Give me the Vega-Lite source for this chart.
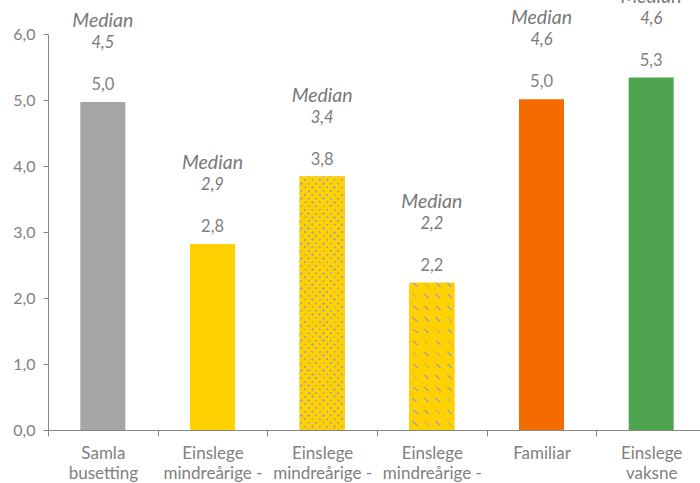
{
  "$schema": "https://vega.github.io/schema/vega-lite/v6.json",
  "autosize": {"type": "none"},
  "padding": {"left": 48, "top": 34, "right": 0, "bottom": 53},
  "width": 652,
  "height": 396,
  "background": "white",
  "data": {
    "values": [
      {"gruppe": "Samla\nbusetting", "snitt": 4.97, "median": 4.5},
      {"gruppe": "Einslege\nmindreårige -\ntotalt", "snitt": 2.82, "median": 2.9},
      {"gruppe": "Einslege\nmindreårige -\nunder 15 år", "snitt": 3.84, "median": 3.4},
      {"gruppe": "Einslege\nmindreårige -\n15 år og eldre", "snitt": 2.23, "median": 2.2},
      {"gruppe": "Familiar", "snitt": 5.01, "median": 4.6},
      {"gruppe": "Einslege\nvaksne", "snitt": 5.34, "median": 4.6}
    ]
  },
  "encoding": {
    "x": {
      "field": "gruppe",
      "type": "nominal",
      "sort": null,
      "scale": {"paddingInner": 0, "paddingOuter": 0, "range": [0, 658]},
      "axis": {
        "title": null,
        "labelAngle": 0,
        "tickBand": "extent",
        "tickSize": 6,
        "labelPadding": 9,
        "labelFontSize": 17,
        "labelLineHeight": 20,
        "labelExpr": "split(datum.label, '\\n')"
      }
    },
    "y": {
      "field": "snitt",
      "type": "quantitative",
      "scale": {"domain": [0, 6], "nice": false},
      "axis": {
        "title": null,
        "values": [0, 1, 2, 3, 4, 5, 6],
        "format": ".1f",
        "tickSize": 5,
        "labelPadding": 8,
        "labelFontSize": 16
      }
    }
  },
  "layer": [
    {
      "mark": {"type": "bar", "size": 45},
      "encoding": {
        "color": {
          "field": "gruppe",
          "type": "nominal",
          "legend": null,
          "scale": {
            "domain": ["Samla\nbusetting", "Einslege\nmindreårige -\ntotalt", "Einslege\nmindreårige -\nunder 15 år", "Einslege\nmindreårige -\n15 år og eldre", "Familiar", "Einslege\nvaksne"],
            "range": ["#A5A5A5", "#FFD100", "#FFD100", "#FFD100", "#F46C00", "#4FA54F"]
          }
        }
      }
    },
    {
      "transform": [{"filter": "indexof(datum.gruppe, 'under 15') >= 0"}],
      "mark": {
        "type": "bar",
        "size": 45,
        "fill": {
          "gradient": "linear", "x1": 0, "y1": 0, "x2": 0.2056, "y2": 1.143,
          "stops": [
            {"offset": 0, "color": "#A6A6A6"}, {"offset": 0.009, "color": "#A6A6A6"}, {"offset": 0.009, "color": "#FFD100"}, {"offset": 0.025, "color": "#FFD100"},
            {"offset": 0.025, "color": "#A6A6A6"}, {"offset": 0.034, "color": "#A6A6A6"}, {"offset": 0.034, "color": "#FFD100"}, {"offset": 0.05, "color": "#FFD100"},
            {"offset": 0.05, "color": "#A6A6A6"}, {"offset": 0.059, "color": "#A6A6A6"}, {"offset": 0.059, "color": "#FFD100"}, {"offset": 0.075, "color": "#FFD100"},
            {"offset": 0.075, "color": "#A6A6A6"}, {"offset": 0.084, "color": "#A6A6A6"}, {"offset": 0.084, "color": "#FFD100"}, {"offset": 0.1, "color": "#FFD100"},
            {"offset": 0.1, "color": "#A6A6A6"}, {"offset": 0.109, "color": "#A6A6A6"}, {"offset": 0.109, "color": "#FFD100"}, {"offset": 0.125, "color": "#FFD100"},
            {"offset": 0.125, "color": "#A6A6A6"}, {"offset": 0.134, "color": "#A6A6A6"}, {"offset": 0.134, "color": "#FFD100"}, {"offset": 0.15, "color": "#FFD100"},
            {"offset": 0.15, "color": "#A6A6A6"}, {"offset": 0.159, "color": "#A6A6A6"}, {"offset": 0.159, "color": "#FFD100"}, {"offset": 0.175, "color": "#FFD100"},
            {"offset": 0.175, "color": "#A6A6A6"}, {"offset": 0.184, "color": "#A6A6A6"}, {"offset": 0.184, "color": "#FFD100"}, {"offset": 0.2, "color": "#FFD100"},
            {"offset": 0.2, "color": "#A6A6A6"}, {"offset": 0.209, "color": "#A6A6A6"}, {"offset": 0.209, "color": "#FFD100"}, {"offset": 0.225, "color": "#FFD100"},
            {"offset": 0.225, "color": "#A6A6A6"}, {"offset": 0.234, "color": "#A6A6A6"}, {"offset": 0.234, "color": "#FFD100"}, {"offset": 0.25, "color": "#FFD100"},
            {"offset": 0.25, "color": "#A6A6A6"}, {"offset": 0.259, "color": "#A6A6A6"}, {"offset": 0.259, "color": "#FFD100"}, {"offset": 0.275, "color": "#FFD100"},
            {"offset": 0.275, "color": "#A6A6A6"}, {"offset": 0.284, "color": "#A6A6A6"}, {"offset": 0.284, "color": "#FFD100"}, {"offset": 0.3, "color": "#FFD100"},
            {"offset": 0.3, "color": "#A6A6A6"}, {"offset": 0.309, "color": "#A6A6A6"}, {"offset": 0.309, "color": "#FFD100"}, {"offset": 0.325, "color": "#FFD100"},
            {"offset": 0.325, "color": "#A6A6A6"}, {"offset": 0.334, "color": "#A6A6A6"}, {"offset": 0.334, "color": "#FFD100"}, {"offset": 0.35, "color": "#FFD100"},
            {"offset": 0.35, "color": "#A6A6A6"}, {"offset": 0.359, "color": "#A6A6A6"}, {"offset": 0.359, "color": "#FFD100"}, {"offset": 0.375, "color": "#FFD100"},
            {"offset": 0.375, "color": "#A6A6A6"}, {"offset": 0.384, "color": "#A6A6A6"}, {"offset": 0.384, "color": "#FFD100"}, {"offset": 0.4, "color": "#FFD100"},
            {"offset": 0.4, "color": "#A6A6A6"}, {"offset": 0.409, "color": "#A6A6A6"}, {"offset": 0.409, "color": "#FFD100"}, {"offset": 0.425, "color": "#FFD100"},
            {"offset": 0.425, "color": "#A6A6A6"}, {"offset": 0.434, "color": "#A6A6A6"}, {"offset": 0.434, "color": "#FFD100"}, {"offset": 0.45, "color": "#FFD100"},
            {"offset": 0.45, "color": "#A6A6A6"}, {"offset": 0.459, "color": "#A6A6A6"}, {"offset": 0.459, "color": "#FFD100"}, {"offset": 0.475, "color": "#FFD100"},
            {"offset": 0.475, "color": "#A6A6A6"}, {"offset": 0.484, "color": "#A6A6A6"}, {"offset": 0.484, "color": "#FFD100"}, {"offset": 0.5, "color": "#FFD100"},
            {"offset": 0.5, "color": "#A6A6A6"}, {"offset": 0.509, "color": "#A6A6A6"}, {"offset": 0.509, "color": "#FFD100"}, {"offset": 0.525, "color": "#FFD100"},
            {"offset": 0.525, "color": "#A6A6A6"}, {"offset": 0.534, "color": "#A6A6A6"}, {"offset": 0.534, "color": "#FFD100"}, {"offset": 0.55, "color": "#FFD100"},
            {"offset": 0.55, "color": "#A6A6A6"}, {"offset": 0.559, "color": "#A6A6A6"}, {"offset": 0.559, "color": "#FFD100"}, {"offset": 0.575, "color": "#FFD100"},
            {"offset": 0.575, "color": "#A6A6A6"}, {"offset": 0.584, "color": "#A6A6A6"}, {"offset": 0.584, "color": "#FFD100"}, {"offset": 0.6, "color": "#FFD100"},
            {"offset": 0.6, "color": "#A6A6A6"}, {"offset": 0.609, "color": "#A6A6A6"}, {"offset": 0.609, "color": "#FFD100"}, {"offset": 0.625, "color": "#FFD100"},
            {"offset": 0.625, "color": "#A6A6A6"}, {"offset": 0.634, "color": "#A6A6A6"}, {"offset": 0.634, "color": "#FFD100"}, {"offset": 0.65, "color": "#FFD100"},
            {"offset": 0.65, "color": "#A6A6A6"}, {"offset": 0.659, "color": "#A6A6A6"}, {"offset": 0.659, "color": "#FFD100"}, {"offset": 0.675, "color": "#FFD100"},
            {"offset": 0.675, "color": "#A6A6A6"}, {"offset": 0.684, "color": "#A6A6A6"}, {"offset": 0.684, "color": "#FFD100"}, {"offset": 0.7, "color": "#FFD100"},
            {"offset": 0.7, "color": "#A6A6A6"}, {"offset": 0.709, "color": "#A6A6A6"}, {"offset": 0.709, "color": "#FFD100"}, {"offset": 0.725, "color": "#FFD100"},
            {"offset": 0.725, "color": "#A6A6A6"}, {"offset": 0.734, "color": "#A6A6A6"}, {"offset": 0.734, "color": "#FFD100"}, {"offset": 0.75, "color": "#FFD100"},
            {"offset": 0.75, "color": "#A6A6A6"}, {"offset": 0.759, "color": "#A6A6A6"}, {"offset": 0.759, "color": "#FFD100"}, {"offset": 0.775, "color": "#FFD100"},
            {"offset": 0.775, "color": "#A6A6A6"}, {"offset": 0.784, "color": "#A6A6A6"}, {"offset": 0.784, "color": "#FFD100"}, {"offset": 0.8, "color": "#FFD100"},
            {"offset": 0.8, "color": "#A6A6A6"}, {"offset": 0.809, "color": "#A6A6A6"}, {"offset": 0.809, "color": "#FFD100"}, {"offset": 0.825, "color": "#FFD100"},
            {"offset": 0.825, "color": "#A6A6A6"}, {"offset": 0.834, "color": "#A6A6A6"}, {"offset": 0.834, "color": "#FFD100"}, {"offset": 0.85, "color": "#FFD100"},
            {"offset": 0.85, "color": "#A6A6A6"}, {"offset": 0.859, "color": "#A6A6A6"}, {"offset": 0.859, "color": "#FFD100"}, {"offset": 0.875, "color": "#FFD100"},
            {"offset": 0.875, "color": "#A6A6A6"}, {"offset": 0.884, "color": "#A6A6A6"}, {"offset": 0.884, "color": "#FFD100"}, {"offset": 0.9, "color": "#FFD100"},
            {"offset": 0.9, "color": "#A6A6A6"}, {"offset": 0.909, "color": "#A6A6A6"}, {"offset": 0.909, "color": "#FFD100"}, {"offset": 0.925, "color": "#FFD100"},
            {"offset": 0.925, "color": "#A6A6A6"}, {"offset": 0.934, "color": "#A6A6A6"}, {"offset": 0.934, "color": "#FFD100"}, {"offset": 0.95, "color": "#FFD100"},
            {"offset": 0.95, "color": "#A6A6A6"}, {"offset": 0.959, "color": "#A6A6A6"}, {"offset": 0.959, "color": "#FFD100"}, {"offset": 0.975, "color": "#FFD100"},
            {"offset": 0.975, "color": "#A6A6A6"}, {"offset": 0.984, "color": "#A6A6A6"}, {"offset": 0.984, "color": "#FFD100"}, {"offset": 1, "color": "#FFD100"}
          ]
        }
      }
    },
    {
      "transform": [{"filter": "indexof(datum.gruppe, 'under 15') >= 0"}],
      "mark": {
        "type": "bar",
        "size": 45,
        "fill": {
          "gradient": "linear", "x1": 0, "y1": 1, "x2": 0.2056, "y2": -0.143,
          "stops": [
            {"offset": 0, "color": "rgba(255,209,0,0)"}, {"offset": 0.009, "color": "rgba(255,209,0,0)"}, {"offset": 0.009, "color": "#FFD100"}, {"offset": 0.025, "color": "#FFD100"},
            {"offset": 0.025, "color": "rgba(255,209,0,0)"}, {"offset": 0.034, "color": "rgba(255,209,0,0)"}, {"offset": 0.034, "color": "#FFD100"}, {"offset": 0.05, "color": "#FFD100"},
            {"offset": 0.05, "color": "rgba(255,209,0,0)"}, {"offset": 0.059, "color": "rgba(255,209,0,0)"}, {"offset": 0.059, "color": "#FFD100"}, {"offset": 0.075, "color": "#FFD100"},
            {"offset": 0.075, "color": "rgba(255,209,0,0)"}, {"offset": 0.084, "color": "rgba(255,209,0,0)"}, {"offset": 0.084, "color": "#FFD100"}, {"offset": 0.1, "color": "#FFD100"},
            {"offset": 0.1, "color": "rgba(255,209,0,0)"}, {"offset": 0.109, "color": "rgba(255,209,0,0)"}, {"offset": 0.109, "color": "#FFD100"}, {"offset": 0.125, "color": "#FFD100"},
            {"offset": 0.125, "color": "rgba(255,209,0,0)"}, {"offset": 0.134, "color": "rgba(255,209,0,0)"}, {"offset": 0.134, "color": "#FFD100"}, {"offset": 0.15, "color": "#FFD100"},
            {"offset": 0.15, "color": "rgba(255,209,0,0)"}, {"offset": 0.159, "color": "rgba(255,209,0,0)"}, {"offset": 0.159, "color": "#FFD100"}, {"offset": 0.175, "color": "#FFD100"},
            {"offset": 0.175, "color": "rgba(255,209,0,0)"}, {"offset": 0.184, "color": "rgba(255,209,0,0)"}, {"offset": 0.184, "color": "#FFD100"}, {"offset": 0.2, "color": "#FFD100"},
            {"offset": 0.2, "color": "rgba(255,209,0,0)"}, {"offset": 0.209, "color": "rgba(255,209,0,0)"}, {"offset": 0.209, "color": "#FFD100"}, {"offset": 0.225, "color": "#FFD100"},
            {"offset": 0.225, "color": "rgba(255,209,0,0)"}, {"offset": 0.234, "color": "rgba(255,209,0,0)"}, {"offset": 0.234, "color": "#FFD100"}, {"offset": 0.25, "color": "#FFD100"},
            {"offset": 0.25, "color": "rgba(255,209,0,0)"}, {"offset": 0.259, "color": "rgba(255,209,0,0)"}, {"offset": 0.259, "color": "#FFD100"}, {"offset": 0.275, "color": "#FFD100"},
            {"offset": 0.275, "color": "rgba(255,209,0,0)"}, {"offset": 0.284, "color": "rgba(255,209,0,0)"}, {"offset": 0.284, "color": "#FFD100"}, {"offset": 0.3, "color": "#FFD100"},
            {"offset": 0.3, "color": "rgba(255,209,0,0)"}, {"offset": 0.309, "color": "rgba(255,209,0,0)"}, {"offset": 0.309, "color": "#FFD100"}, {"offset": 0.325, "color": "#FFD100"},
            {"offset": 0.325, "color": "rgba(255,209,0,0)"}, {"offset": 0.334, "color": "rgba(255,209,0,0)"}, {"offset": 0.334, "color": "#FFD100"}, {"offset": 0.35, "color": "#FFD100"},
            {"offset": 0.35, "color": "rgba(255,209,0,0)"}, {"offset": 0.359, "color": "rgba(255,209,0,0)"}, {"offset": 0.359, "color": "#FFD100"}, {"offset": 0.375, "color": "#FFD100"},
            {"offset": 0.375, "color": "rgba(255,209,0,0)"}, {"offset": 0.384, "color": "rgba(255,209,0,0)"}, {"offset": 0.384, "color": "#FFD100"}, {"offset": 0.4, "color": "#FFD100"},
            {"offset": 0.4, "color": "rgba(255,209,0,0)"}, {"offset": 0.409, "color": "rgba(255,209,0,0)"}, {"offset": 0.409, "color": "#FFD100"}, {"offset": 0.425, "color": "#FFD100"},
            {"offset": 0.425, "color": "rgba(255,209,0,0)"}, {"offset": 0.434, "color": "rgba(255,209,0,0)"}, {"offset": 0.434, "color": "#FFD100"}, {"offset": 0.45, "color": "#FFD100"},
            {"offset": 0.45, "color": "rgba(255,209,0,0)"}, {"offset": 0.459, "color": "rgba(255,209,0,0)"}, {"offset": 0.459, "color": "#FFD100"}, {"offset": 0.475, "color": "#FFD100"},
            {"offset": 0.475, "color": "rgba(255,209,0,0)"}, {"offset": 0.484, "color": "rgba(255,209,0,0)"}, {"offset": 0.484, "color": "#FFD100"}, {"offset": 0.5, "color": "#FFD100"},
            {"offset": 0.5, "color": "rgba(255,209,0,0)"}, {"offset": 0.509, "color": "rgba(255,209,0,0)"}, {"offset": 0.509, "color": "#FFD100"}, {"offset": 0.525, "color": "#FFD100"},
            {"offset": 0.525, "color": "rgba(255,209,0,0)"}, {"offset": 0.534, "color": "rgba(255,209,0,0)"}, {"offset": 0.534, "color": "#FFD100"}, {"offset": 0.55, "color": "#FFD100"},
            {"offset": 0.55, "color": "rgba(255,209,0,0)"}, {"offset": 0.559, "color": "rgba(255,209,0,0)"}, {"offset": 0.559, "color": "#FFD100"}, {"offset": 0.575, "color": "#FFD100"},
            {"offset": 0.575, "color": "rgba(255,209,0,0)"}, {"offset": 0.584, "color": "rgba(255,209,0,0)"}, {"offset": 0.584, "color": "#FFD100"}, {"offset": 0.6, "color": "#FFD100"},
            {"offset": 0.6, "color": "rgba(255,209,0,0)"}, {"offset": 0.609, "color": "rgba(255,209,0,0)"}, {"offset": 0.609, "color": "#FFD100"}, {"offset": 0.625, "color": "#FFD100"},
            {"offset": 0.625, "color": "rgba(255,209,0,0)"}, {"offset": 0.634, "color": "rgba(255,209,0,0)"}, {"offset": 0.634, "color": "#FFD100"}, {"offset": 0.65, "color": "#FFD100"},
            {"offset": 0.65, "color": "rgba(255,209,0,0)"}, {"offset": 0.659, "color": "rgba(255,209,0,0)"}, {"offset": 0.659, "color": "#FFD100"}, {"offset": 0.675, "color": "#FFD100"},
            {"offset": 0.675, "color": "rgba(255,209,0,0)"}, {"offset": 0.684, "color": "rgba(255,209,0,0)"}, {"offset": 0.684, "color": "#FFD100"}, {"offset": 0.7, "color": "#FFD100"},
            {"offset": 0.7, "color": "rgba(255,209,0,0)"}, {"offset": 0.709, "color": "rgba(255,209,0,0)"}, {"offset": 0.709, "color": "#FFD100"}, {"offset": 0.725, "color": "#FFD100"},
            {"offset": 0.725, "color": "rgba(255,209,0,0)"}, {"offset": 0.734, "color": "rgba(255,209,0,0)"}, {"offset": 0.734, "color": "#FFD100"}, {"offset": 0.75, "color": "#FFD100"},
            {"offset": 0.75, "color": "rgba(255,209,0,0)"}, {"offset": 0.759, "color": "rgba(255,209,0,0)"}, {"offset": 0.759, "color": "#FFD100"}, {"offset": 0.775, "color": "#FFD100"},
            {"offset": 0.775, "color": "rgba(255,209,0,0)"}, {"offset": 0.784, "color": "rgba(255,209,0,0)"}, {"offset": 0.784, "color": "#FFD100"}, {"offset": 0.8, "color": "#FFD100"},
            {"offset": 0.8, "color": "rgba(255,209,0,0)"}, {"offset": 0.809, "color": "rgba(255,209,0,0)"}, {"offset": 0.809, "color": "#FFD100"}, {"offset": 0.825, "color": "#FFD100"},
            {"offset": 0.825, "color": "rgba(255,209,0,0)"}, {"offset": 0.834, "color": "rgba(255,209,0,0)"}, {"offset": 0.834, "color": "#FFD100"}, {"offset": 0.85, "color": "#FFD100"},
            {"offset": 0.85, "color": "rgba(255,209,0,0)"}, {"offset": 0.859, "color": "rgba(255,209,0,0)"}, {"offset": 0.859, "color": "#FFD100"}, {"offset": 0.875, "color": "#FFD100"},
            {"offset": 0.875, "color": "rgba(255,209,0,0)"}, {"offset": 0.884, "color": "rgba(255,209,0,0)"}, {"offset": 0.884, "color": "#FFD100"}, {"offset": 0.9, "color": "#FFD100"},
            {"offset": 0.9, "color": "rgba(255,209,0,0)"}, {"offset": 0.909, "color": "rgba(255,209,0,0)"}, {"offset": 0.909, "color": "#FFD100"}, {"offset": 0.925, "color": "#FFD100"},
            {"offset": 0.925, "color": "rgba(255,209,0,0)"}, {"offset": 0.934, "color": "rgba(255,209,0,0)"}, {"offset": 0.934, "color": "#FFD100"}, {"offset": 0.95, "color": "#FFD100"},
            {"offset": 0.95, "color": "rgba(255,209,0,0)"}, {"offset": 0.959, "color": "rgba(255,209,0,0)"}, {"offset": 0.959, "color": "#FFD100"}, {"offset": 0.975, "color": "#FFD100"},
            {"offset": 0.975, "color": "rgba(255,209,0,0)"}, {"offset": 0.984, "color": "rgba(255,209,0,0)"}, {"offset": 0.984, "color": "#FFD100"}, {"offset": 1, "color": "#FFD100"}
          ]
        }
      }
    },
    {
      "transform": [{"filter": "indexof(datum.gruppe, 'og eldre') >= 0"}],
      "mark": {
        "type": "bar",
        "size": 45,
        "fill": {
          "gradient": "linear", "x1": 0, "y1": 1, "x2": 0.3704, "y2": -0.1951,
          "stops": [
            {"offset": 0, "color": "#A6A6A6"}, {"offset": 0.009, "color": "#A6A6A6"}, {"offset": 0.009, "color": "#FFD100"}, {"offset": 0.06, "color": "#FFD100"},
            {"offset": 0.06, "color": "#A6A6A6"}, {"offset": 0.069, "color": "#A6A6A6"}, {"offset": 0.069, "color": "#FFD100"}, {"offset": 0.12, "color": "#FFD100"},
            {"offset": 0.12, "color": "#A6A6A6"}, {"offset": 0.129, "color": "#A6A6A6"}, {"offset": 0.129, "color": "#FFD100"}, {"offset": 0.18, "color": "#FFD100"},
            {"offset": 0.18, "color": "#A6A6A6"}, {"offset": 0.189, "color": "#A6A6A6"}, {"offset": 0.189, "color": "#FFD100"}, {"offset": 0.24, "color": "#FFD100"},
            {"offset": 0.24, "color": "#A6A6A6"}, {"offset": 0.249, "color": "#A6A6A6"}, {"offset": 0.249, "color": "#FFD100"}, {"offset": 0.3, "color": "#FFD100"},
            {"offset": 0.3, "color": "#A6A6A6"}, {"offset": 0.309, "color": "#A6A6A6"}, {"offset": 0.309, "color": "#FFD100"}, {"offset": 0.36, "color": "#FFD100"},
            {"offset": 0.36, "color": "#A6A6A6"}, {"offset": 0.369, "color": "#A6A6A6"}, {"offset": 0.369, "color": "#FFD100"}, {"offset": 0.42, "color": "#FFD100"},
            {"offset": 0.42, "color": "#A6A6A6"}, {"offset": 0.429, "color": "#A6A6A6"}, {"offset": 0.429, "color": "#FFD100"}, {"offset": 0.48, "color": "#FFD100"},
            {"offset": 0.48, "color": "#A6A6A6"}, {"offset": 0.489, "color": "#A6A6A6"}, {"offset": 0.489, "color": "#FFD100"}, {"offset": 0.54, "color": "#FFD100"},
            {"offset": 0.54, "color": "#A6A6A6"}, {"offset": 0.549, "color": "#A6A6A6"}, {"offset": 0.549, "color": "#FFD100"}, {"offset": 0.6, "color": "#FFD100"},
            {"offset": 0.6, "color": "#A6A6A6"}, {"offset": 0.609, "color": "#A6A6A6"}, {"offset": 0.609, "color": "#FFD100"}, {"offset": 0.66, "color": "#FFD100"},
            {"offset": 0.66, "color": "#A6A6A6"}, {"offset": 0.669, "color": "#A6A6A6"}, {"offset": 0.669, "color": "#FFD100"}, {"offset": 0.72, "color": "#FFD100"},
            {"offset": 0.72, "color": "#A6A6A6"}, {"offset": 0.729, "color": "#A6A6A6"}, {"offset": 0.729, "color": "#FFD100"}, {"offset": 0.78, "color": "#FFD100"},
            {"offset": 0.78, "color": "#A6A6A6"}, {"offset": 0.789, "color": "#A6A6A6"}, {"offset": 0.789, "color": "#FFD100"}, {"offset": 0.84, "color": "#FFD100"},
            {"offset": 0.84, "color": "#A6A6A6"}, {"offset": 0.849, "color": "#A6A6A6"}, {"offset": 0.849, "color": "#FFD100"}, {"offset": 0.9, "color": "#FFD100"},
            {"offset": 0.9, "color": "#A6A6A6"}, {"offset": 0.909, "color": "#A6A6A6"}, {"offset": 0.909, "color": "#FFD100"}, {"offset": 0.96, "color": "#FFD100"},
            {"offset": 0.96, "color": "#A6A6A6"}, {"offset": 0.969, "color": "#A6A6A6"}, {"offset": 0.969, "color": "#FFD100"}, {"offset": 1, "color": "#FFD100"}
          ]
        }
      }
    },
    {
      "transform": [{"filter": "indexof(datum.gruppe, 'og eldre') >= 0"}],
      "mark": {
        "type": "bar",
        "size": 45,
        "fill": {
          "gradient": "linear", "x1": 0, "y1": 0, "x2": 0, "y2": 1,
          "stops": [
            {"offset": 0, "color": "rgba(255,209,0,0)"}, {"offset": 0.0275, "color": "rgba(255,209,0,0)"}, {"offset": 0.0275, "color": "#FFD100"}, {"offset": 0.0785, "color": "#FFD100"},
            {"offset": 0.0785, "color": "rgba(255,209,0,0)"}, {"offset": 0.106, "color": "rgba(255,209,0,0)"}, {"offset": 0.106, "color": "#FFD100"}, {"offset": 0.157, "color": "#FFD100"},
            {"offset": 0.157, "color": "rgba(255,209,0,0)"}, {"offset": 0.1845, "color": "rgba(255,209,0,0)"}, {"offset": 0.1845, "color": "#FFD100"}, {"offset": 0.2355, "color": "#FFD100"},
            {"offset": 0.2355, "color": "rgba(255,209,0,0)"}, {"offset": 0.263, "color": "rgba(255,209,0,0)"}, {"offset": 0.263, "color": "#FFD100"}, {"offset": 0.314, "color": "#FFD100"},
            {"offset": 0.314, "color": "rgba(255,209,0,0)"}, {"offset": 0.3415, "color": "rgba(255,209,0,0)"}, {"offset": 0.3415, "color": "#FFD100"}, {"offset": 0.3925, "color": "#FFD100"},
            {"offset": 0.3925, "color": "rgba(255,209,0,0)"}, {"offset": 0.42, "color": "rgba(255,209,0,0)"}, {"offset": 0.42, "color": "#FFD100"}, {"offset": 0.471, "color": "#FFD100"},
            {"offset": 0.471, "color": "rgba(255,209,0,0)"}, {"offset": 0.4985, "color": "rgba(255,209,0,0)"}, {"offset": 0.4985, "color": "#FFD100"}, {"offset": 0.5495, "color": "#FFD100"},
            {"offset": 0.5495, "color": "rgba(255,209,0,0)"}, {"offset": 0.577, "color": "rgba(255,209,0,0)"}, {"offset": 0.577, "color": "#FFD100"}, {"offset": 0.628, "color": "#FFD100"},
            {"offset": 0.628, "color": "rgba(255,209,0,0)"}, {"offset": 0.6555, "color": "rgba(255,209,0,0)"}, {"offset": 0.6555, "color": "#FFD100"}, {"offset": 0.7065, "color": "#FFD100"},
            {"offset": 0.7065, "color": "rgba(255,209,0,0)"}, {"offset": 0.734, "color": "rgba(255,209,0,0)"}, {"offset": 0.734, "color": "#FFD100"}, {"offset": 0.785, "color": "#FFD100"},
            {"offset": 0.785, "color": "rgba(255,209,0,0)"}, {"offset": 0.8125, "color": "rgba(255,209,0,0)"}, {"offset": 0.8125, "color": "#FFD100"}, {"offset": 0.8635, "color": "#FFD100"},
            {"offset": 0.8635, "color": "rgba(255,209,0,0)"}, {"offset": 0.891, "color": "rgba(255,209,0,0)"}, {"offset": 0.891, "color": "#FFD100"}, {"offset": 0.942, "color": "#FFD100"},
            {"offset": 0.942, "color": "rgba(255,209,0,0)"}, {"offset": 0.9695, "color": "rgba(255,209,0,0)"}, {"offset": 0.9695, "color": "#FFD100"}, {"offset": 1, "color": "#FFD100"}
          ]
        }
      }
    },
    {
      "mark": {"type": "text", "baseline": "middle", "dy": -17, "fontSize": 16.5},
      "encoding": {
        "text": {"field": "snitt", "type": "quantitative", "format": ".1f"}
      }
    },
    {
      "mark": {"type": "text", "baseline": "middle", "dy": -81, "fontSize": 19.5, "fontStyle": "italic", "text": "Median", "color": "#787878"}
    },
    {
      "mark": {"type": "text", "baseline": "middle", "dy": -59, "fontSize": 16.5, "fontStyle": "italic", "color": "#787878"},
      "encoding": {
        "text": {"field": "median", "type": "quantitative", "format": ".1f"}
      }
    }
  ],
  "config": {
    "locale": {
      "number": {"decimal": ",", "thousands": " ", "grouping": [3], "currency": ["", " kr"]}
    },
    "view": {"stroke": null},
    "font": "Lato",
    "text": {"color": "#7F7F7F", "font": "Lato"},
    "axis": {
      "grid": false,
      "domainColor": "#868686",
      "tickColor": "#868686",
      "labelColor": "#7F7F7F",
      "labelFont": "Lato",
      "labelFontSize": 15
    }
  }
}
